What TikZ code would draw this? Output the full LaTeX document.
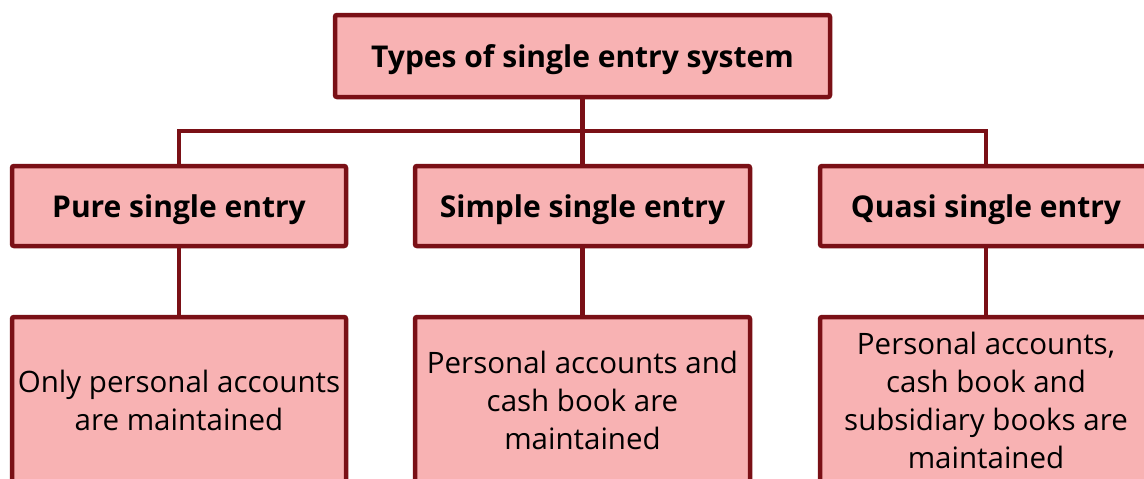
\documentclass[tikz,border=0pt]{standalone}
\usepackage{fontspec}
\setmainfont{Open Sans}
\definecolor{edge}{HTML}{7A1016}
\definecolor{boxfill}{HTML}{F8B2B3}
\tikzset{
  box/.style={draw=edge, fill=boxfill, line width=4.5pt, rounded corners=2pt, inner sep=0pt, align=center, text=black},
  headbox/.style={box, text depth=0pt, font=\fontsize{30}{36}\selectfont\bfseries},
  catbox/.style={box, text depth=0pt, font=\fontsize{30}{36}\selectfont\bfseries},
  descbox/.style={box, font=\fontsize{29.5}{38}\selectfont},
  link/.style={draw=edge, line width=4.5pt}
}
\begin{document}
\begin{tikzpicture}[x=1pt,y=-1pt]
\useasboundingbox (0,0) rectangle (1144,479);
\node[headbox, minimum width=495pt, minimum height=82pt] (top) at (582.5,56) {Types of single entry system};
\node[catbox, minimum width=334pt, minimum height=80pt] (a) at (179,206) {Pure single entry};
\node[catbox, minimum width=335pt, minimum height=80pt] (b) at (582.5,206) {Simple single entry};
\node[catbox, minimum width=332pt, minimum height=80pt] (c) at (986,206) {Quasi single entry};
\node[descbox, minimum width=334pt, minimum height=166pt] (a2) at (179,400) {Only personal accounts\\are maintained};
\node[descbox, minimum width=335pt, minimum height=166pt] (b2) at (582.5,400) {Personal accounts and\\cash book are\\maintained};
\node[descbox, minimum width=332pt, minimum height=166pt] (c2) at (986,400) {Personal accounts,\\cash book and\\subsidiary books are\\maintained};
\coordinate (j) at (582.5,131);
\draw[link] (top.south) -- (j);
\draw[link] (a.north) |- (j) -| (c.north);
\draw[link] (j) -- (b.north);
\draw[link] (a.south) -- (a2.north);
\draw[link] (b.south) -- (b2.north);
\draw[link] (c.south) -- (c2.north);
\end{tikzpicture}
\end{document}
